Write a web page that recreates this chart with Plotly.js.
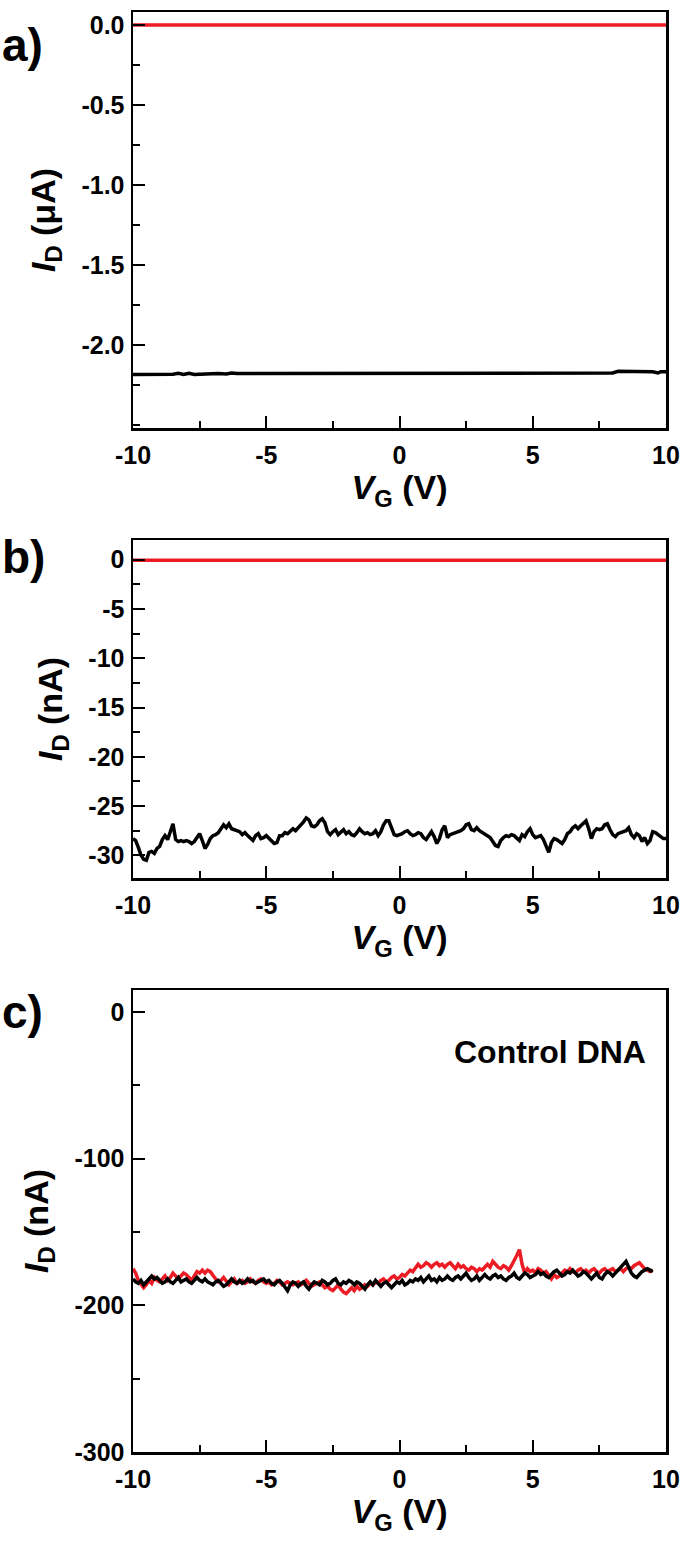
<!DOCTYPE html>
<html>
<head>
<meta charset="utf-8">
<script src="https://cdn.plot.ly/plotly-3.0.1.min.js"></script>
<style>html,body{margin:0;padding:0;background:#fff;}#chart{width:684px;height:1545px;}</style>
</head>
<body>
<div id="chart"></div>
<script>
// ---------- DATA ----------
// Panel a (µA)
const xA = [-10,-9.5,-9,-8.5,-8.3,-8.1,-7.9,-7.7,-7.5,-7.2,-7,-6.8,-6.5,-6.3,-6.1,-5.9,-5.7,-5.5,-5,-4,-3,-2,-1,0,1,2,3,4,5,6,7,7.5,8,8.2,8.5,9,9.5,9.7,9.8,10];
const aRed = [-0.002,-0.002,-0.002,-0.002,-0.002,-0.002,-0.002,-0.002,-0.002,-0.002,-0.002,-0.002,-0.002,-0.002,-0.002,-0.002,-0.002,-0.002,-0.002,-0.002,-0.002,-0.002,-0.002,0.0,-0.002,-0.002,-0.002,-0.002,-0.002,-0.002,-0.002,-0.002,-0.002,-0.002,-0.002,-0.002,-0.002,-0.002,-0.002,-0.002];
const aBlack = [-2.185,-2.185,-2.185,-2.184,-2.178,-2.185,-2.178,-2.185,-2.184,-2.18,-2.178,-2.18,-2.182,-2.176,-2.18,-2.18,-2.18,-2.176,-2.176,-2.176,-2.176,-2.176,-2.176,-2.176,-2.176,-2.176,-2.176,-2.176,-2.176,-2.176,-2.176,-2.176,-2.176,-2.166,-2.166,-2.166,-2.168,-2.176,-2.168,-2.168];

// Panel b (nA), VG step 0.1 from -10 to 10
const xB = [];
for (let i = 0; i <= 200; i++) xB.push(Math.round((-10 + i * 0.1) * 10) / 10);
const bBlack = [
-28.3,-28.5,-29.2,-30.0,-30.4,-30.5,-29.7,-29.6,-29.8,-29.3,
-29.1,-28.4,-28.0,-28.4,-27.6,-26.8,-28.4,-28.6,-28.5,-28.6,
-28.5,-28.6,-28.8,-28.6,-28.2,-27.8,-28.5,-29.3,-28.9,-28.3,
-28.0,-27.9,-27.7,-27.3,-26.9,-27.2,-26.8,-27.3,-27.4,-27.5,
-27.6,-27.9,-27.7,-28.0,-28.3,-28.5,-28.0,-27.8,-28.3,-28.2,
-28.0,-28.3,-28.5,-28.8,-28.7,-28.0,-28.0,-27.7,-27.8,-27.6,
-27.3,-27.5,-27.2,-27.0,-26.6,-26.2,-26.4,-27.0,-27.1,-26.9,
-26.5,-26.3,-26.7,-27.6,-27.9,-27.6,-27.4,-27.9,-27.6,-27.4,
-27.8,-27.6,-27.9,-28.0,-27.7,-27.3,-27.6,-27.8,-27.7,-27.9,
-27.8,-27.5,-28.0,-27.6,-26.9,-26.5,-26.5,-27.3,-27.9,-28.0,
-27.9,-27.8,-27.6,-27.5,-27.8,-28.0,-27.9,-27.7,-27.8,-28.2,
-28.4,-28.0,-27.6,-28.1,-28.8,-28.3,-27.4,-27.0,-28.2,-27.9,
-27.8,-27.7,-27.6,-27.5,-27.3,-26.9,-26.8,-27.4,-27.5,-27.2,
-27.5,-27.7,-27.9,-28.0,-28.2,-28.6,-29.0,-29.1,-28.5,-28.2,
-28.0,-28.1,-27.9,-28.0,-28.3,-28.5,-27.9,-28.1,-27.6,-27.3,
-27.9,-28.2,-28.1,-28.0,-28.4,-29.1,-29.7,-28.7,-28.3,-28.4,
-28.6,-28.8,-28.4,-27.8,-27.6,-27.2,-27.0,-27.3,-27.0,-26.7,
-26.5,-27.3,-28.3,-27.6,-27.3,-27.4,-27.3,-26.9,-26.8,-27.4,
-27.9,-28.1,-27.8,-27.7,-27.6,-27.5,-27.2,-27.9,-28.2,-27.8,
-28.0,-28.6,-28.2,-28.8,-28.5,-27.6,-27.7,-27.9,-28.0,-28.3,
-28.3];
const xBred = [-10,-5,-0.1,0,0.1,5,10];
const bRed = [-0.05,-0.05,-0.05,0.0,-0.05,-0.05,-0.05];

// Panel c (nA), VG step 0.1 from -10 to 9.5
const xC = [];
for (let i = 0; i <= 195; i++) xC.push(Math.round((-10 + i * 0.1) * 10) / 10);
const cRed = [
-175,-178,-183,-186,-188,-186,-183,-185,-181,-183,
-184,-182,-180,-183,-181,-178,-180,-182,-180,-178,
-179,-181,-183,-180,-177,-178,-176,-178,-176,-177,
-180,-182,-184,-183,-181,-184,-186,-184,-182,-185,
-184,-183,-185,-184,-182,-184,-185,-183,-182,-184,
-185,-184,-186,-185,-183,-184,-186,-185,-184,-185,
-186,-185,-184,-186,-185,-183,-185,-187,-186,-185,
-184,-186,-188,-187,-189,-190,-188,-186,-189,-191,
-192,-190,-188,-190,-187,-189,-188,-186,-187,-185,
-186,-184,-185,-183,-182,-184,-183,-181,-180,-182,
-181,-179,-180,-178,-176,-177,-174,-172,-174,-173,
-171,-172,-174,-172,-171,-173,-172,-174,-172,-171,
-173,-175,-172,-174,-173,-175,-176,-174,-175,-177,
-175,-176,-174,-172,-174,-170,-172,-174,-175,-173,
-174,-176,-173,-170,-166,-162,-172,-178,-175,-177,
-176,-178,-175,-176,-178,-177,-180,-182,-179,-181,
-180,-178,-176,-177,-175,-177,-178,-176,-175,-177,
-176,-178,-176,-175,-177,-178,-176,-175,-177,-176,
-175,-177,-176,-175,-177,-175,-174,-175,-173,-172,
-171,-173,-175,-176,-177,-176];
const cBlack = [
-182,-184,-185,-183,-186,-184,-182,-180,-182,-181,
-183,-185,-184,-182,-184,-185,-183,-181,-184,-183,
-182,-184,-185,-183,-181,-183,-184,-182,-184,-185,
-186,-184,-183,-185,-187,-186,-184,-182,-184,-185,
-183,-185,-184,-182,-184,-183,-185,-184,-183,-182,
-184,-183,-185,-186,-184,-183,-185,-188,-190,-186,
-184,-185,-187,-185,-184,-187,-189,-186,-184,-185,
-186,-183,-184,-186,-185,-183,-182,-185,-186,-184,
-185,-183,-184,-186,-184,-185,-187,-189,-186,-184,
-186,-183,-185,-187,-185,-184,-186,-188,-186,-184,
-185,-183,-186,-185,-183,-184,-182,-183,-181,-184,
-182,-180,-183,-182,-184,-181,-183,-182,-180,-182,
-183,-181,-180,-182,-180,-178,-181,-183,-182,-180,
-183,-181,-179,-181,-182,-180,-179,-181,-180,-182,
-183,-181,-180,-178,-181,-182,-180,-178,-179,-181,
-180,-179,-177,-179,-178,-180,-181,-179,-177,-176,
-178,-180,-179,-177,-178,-176,-178,-180,-179,-177,
-178,-180,-182,-180,-178,-181,-182,-179,-177,-178,
-180,-178,-176,-174,-172,-170,-174,-178,-180,-181,
-179,-177,-176,-175,-176,-177];

// Tick labels
const xTickVals = [-10,-5,0,5,10];
const xTickText = ['-10','-5','0','5','10'];
const aTickVals = [0,-0.5,-1.0,-1.5,-2.0];
const aTickText = ['0.0','-0.5','-1.0','-1.5','-2.0'];
const bTickVals = [0,-5,-10,-15,-20,-25,-30];
const bTickText = ['0','-5','-10','-15','-20','-25','-30'];
const cTickVals = [0,-100,-200,-300];
const cTickText = ['0','-100','-200','-300'];

// ---------- STYLE ----------
const FONT = 'Liberation Sans, Arial, Helvetica, sans-serif';
const RED = '#ec1c24';
const W = 684, H = 1545;
const px = v => v / W;
const py = v => 1 - v / H;

function xAxis(anchor) {
  return {
    domain: [px(133), px(666)], anchor: anchor, range: [-10, 10],
    tickmode: 'array', tickvals: xTickVals, ticktext: xTickText,
    showline: true, linewidth: 2.5, linecolor: '#000', mirror: true,
    ticks: 'inside', ticklen: 12, tickwidth: 2, tickcolor: '#000',
    ticklabelstandoff: 3,
    minor: {tickmode: 'linear', tick0: -10, dtick: 2.5, ticks: 'inside', ticklen: 7, tickwidth: 2, tickcolor: '#000', showgrid: false},
    showgrid: false, zeroline: false,
    tickfont: {family: FONT, size: 25, color: '#000', weight: 'bold'},
    title: {text: '<i>V</i><sub>G</sub> (V)', font: {family: FONT, size: 34, color: '#000', weight: 'bold'}, standoff: 3}
  };
}
function yAxis(domainY, anchor, range, tv, tt, mdt, title) {
  return {
    domain: domainY, anchor: anchor, range: range,
    tickmode: 'array', tickvals: tv, ticktext: tt,
    showline: true, linewidth: 2.5, linecolor: '#000', mirror: true,
    ticks: 'inside', ticklen: 12, tickwidth: 2, tickcolor: '#000',
    ticklabelstandoff: 1,
    minor: {tickmode: 'linear', tick0: 0, dtick: mdt, ticks: 'inside', ticklen: 7, tickwidth: 2, tickcolor: '#000', showgrid: false},
    showgrid: false, zeroline: false,
    tickfont: {family: FONT, size: 25, color: '#000', weight: 'bold'},
    title: {text: title, font: {family: FONT, size: 34, color: '#000', weight: 'bold'}, standoff: 16}
  };
}

const dA = [py(428), py(12)];
const dB = [py(878), py(540)];
const dC = [py(1452), py(990)];

const LW = 3.5;
const traces = [
  {x: xA, y: aRed, xaxis: 'x', yaxis: 'y', mode: 'lines', line: {color: RED, width: LW}, showlegend: false},
  {x: xA, y: aBlack, xaxis: 'x', yaxis: 'y', mode: 'lines', line: {color: '#000', width: LW}, showlegend: false},
  {x: xBred, y: bRed, xaxis: 'x2', yaxis: 'y2', mode: 'lines', line: {color: RED, width: LW}, showlegend: false},
  {x: xB, y: bBlack, xaxis: 'x2', yaxis: 'y2', mode: 'lines', line: {color: '#000', width: LW}, showlegend: false},
  {x: xC, y: cRed, xaxis: 'x3', yaxis: 'y3', mode: 'lines', line: {color: RED, width: LW}, showlegend: false},
  {x: xC, y: cBlack, xaxis: 'x3', yaxis: 'y3', mode: 'lines', line: {color: '#000', width: LW}, showlegend: false}
];

const layout = {
  width: W, height: H,
  margin: {l: 0, r: 0, t: 0, b: 0},
  paper_bgcolor: '#fff', plot_bgcolor: '#fff',
  showlegend: false,
  xaxis: xAxis('y'),
  yaxis: yAxis(dA, 'x', [-2.52, 0.08], aTickVals, aTickText, 0.25, '<i>I</i><sub>D</sub> (μA)'),
  xaxis2: xAxis('y2'),
  yaxis2: yAxis(dB, 'x2', [-32.3, 2.0], bTickVals, bTickText, 2.5, '<i>I</i><sub>D</sub> (nA)'),
  xaxis3: xAxis('y3'),
  yaxis3: yAxis(dC, 'x3', [-300, 15], cTickVals, cTickText, 50, '<i>I</i><sub>D</sub> (nA)'),
  annotations: [
    {text: 'a)', x: 0.0, y: py(45), xref: 'paper', yref: 'paper', xanchor: 'left', yanchor: 'middle', showarrow: false, font: {family: FONT, size: 46, color: '#000', weight: 'bold'}},
    {text: 'b)', x: 0.0, y: py(557), xref: 'paper', yref: 'paper', xanchor: 'left', yanchor: 'middle', showarrow: false, font: {family: FONT, size: 46, color: '#000', weight: 'bold'}},
    {text: 'c)', x: 0.0, y: py(1012), xref: 'paper', yref: 'paper', xanchor: 'left', yanchor: 'middle', showarrow: false, font: {family: FONT, size: 46, color: '#000', weight: 'bold'}},
    {text: 'Control DNA', x: px(648), y: py(1052), xref: 'paper', yref: 'paper', xanchor: 'right', yanchor: 'middle', showarrow: false, font: {family: FONT, size: 32, color: '#000', weight: 'bold'}}
  ]
};

Plotly.newPlot('chart', traces, layout, {staticPlot: true, displayModeBar: false});
</script>
</body>
</html>
